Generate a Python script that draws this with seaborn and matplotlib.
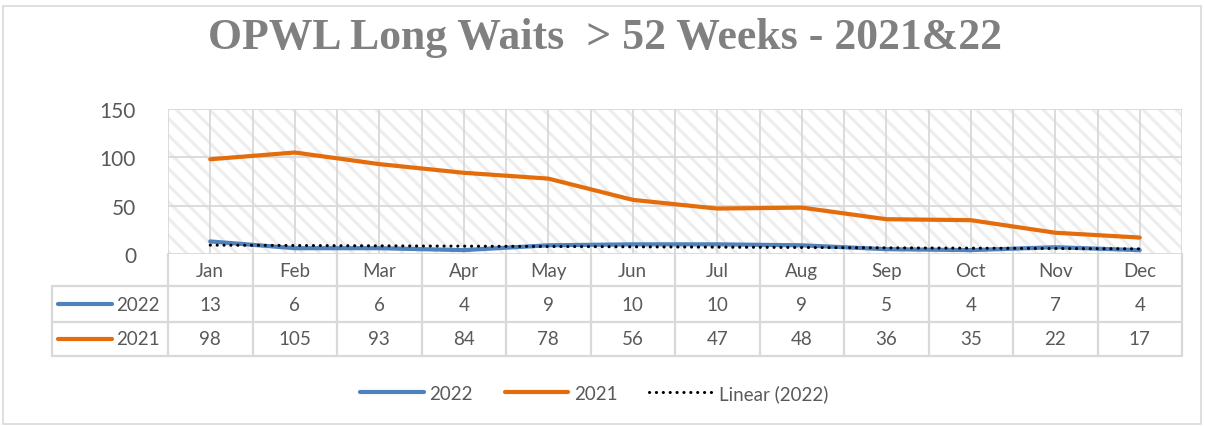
import numpy as np
import pandas as pd
import matplotlib
matplotlib.use("Agg")
import matplotlib.pyplot as plt
from matplotlib.patches import Rectangle
from matplotlib.lines import Line2D
import seaborn as sns

months = ["Jan", "Feb", "Mar", "Apr", "May", "Jun", "Jul", "Aug", "Sep", "Oct", "Nov", "Dec"]
v2022 = [13, 6, 6, 4, 9, 10, 10, 9, 5, 4, 7, 4]
v2021 = [98, 105, 93, 84, 78, 56, 47, 48, 36, 35, 22, 17]
title = "OPWL Long Waits  > 52 Weeks - 2021&22"
yticks = [0, 50, 100, 150]

C22 = "#4F81BD"
C21 = "#E46C0A"
TXT = "#595959"
GRID = "#d9d9d9"
FS = 13.5

sns.set_theme(style="white")
plt.rcParams["font.family"] = ["Lato", "DejaVu Sans"]
plt.rcParams["hatch.linewidth"] = 2.2

W, H = 1205, 427
fig = plt.figure(figsize=(W / 100, H / 100), dpi=100)
L, R, T, B = 168, 1182, 110, 255
ax = fig.add_axes([L / W, 1 - B / H, (R - L) / W, (B - T) / H])

df = pd.DataFrame({
    "x": list(range(12)) * 2,
    "v": v2022 + v2021,
    "s": ["2022"] * 12 + ["2021"] * 12,
})

# hatched plot area
ax.add_patch(Rectangle((0, 0), 1, 1, transform=ax.transAxes, facecolor="white",
                       edgecolor="#ededed", hatch="\\\\", lw=0, zorder=0.1))

sns.lineplot(data=df, x="x", y="v", hue="s", palette={"2022": C22, "2021": C21},
             linewidth=3, legend=False, ax=ax, zorder=3)
for l in ax.lines:
    l.set_solid_capstyle("round")
    l.set_solid_joinstyle("round")

sns.regplot(x=np.arange(12), y=np.array(v2022), scatter=False, ci=None, ax=ax,
            line_kws=dict(color="black", linewidth=2.2, linestyle=(0, (0.05, 2.2)),
                          dash_capstyle="round", zorder=4))

ax.set_xlim(-0.5, 11.5)
ax.set_ylim(0, 150)
ax.set_yticks(yticks)
ax.set_yticklabels([str(t) for t in yticks], fontsize=15, color=TXT)
ax.tick_params(axis="y", length=0, pad=23)
ax.set_xticks([])
ax.set_xlabel("")
ax.set_ylabel("")
for s in ax.spines.values():
    s.set_visible(False)

# gridlines
for t in yticks:
    ax.axhline(t, color=GRID, lw=1.3, zorder=0.5)
for k in range(12):
    ax.axvline(k, color=GRID, lw=1.3, zorder=0.5)
for k in range(13):
    ax.axvline(k - 0.5, color=GRID, lw=1.3, zorder=0.5)

# data table
tr = ax.get_xaxis_transform()
rows_y = [0, -0.221, -0.469, -0.703]
xleft = (52 - L) / (R - L)
for k in range(13):
    ax.plot([k - 0.5, k - 0.5], [0, rows_y[-1]], transform=tr, color=GRID, lw=1.6, clip_on=False)
ax.plot([xleft, xleft], [rows_y[1], rows_y[-1]], transform=ax.transAxes, color=GRID, lw=1.6, clip_on=False)
for yy in rows_y[1:]:
    ax.plot([xleft, 1], [yy, yy], transform=ax.transAxes, color=GRID, lw=1.6, clip_on=False)

for i, m in enumerate(months):
    ax.text(i, (rows_y[0] + rows_y[1]) / 2, m, transform=tr, ha="center", va="center",
            fontsize=FS, color=TXT)
    ax.text(i, (rows_y[1] + rows_y[2]) / 2, str(v2022[i]), transform=tr, ha="center",
            va="center", fontsize=FS, color=TXT)
    ax.text(i, (rows_y[2] + rows_y[3]) / 2, str(v2021[i]), transform=tr, ha="center",
            va="center", fontsize=FS, color=TXT)

for (lab, col, r0, r1) in [("2022", C22, rows_y[1], rows_y[2]), ("2021", C21, rows_y[2], rows_y[3])]:
    yc = (r0 + r1) / 2
    ax.add_line(Line2D([(58 - L) / (R - L), (112 - L) / (R - L)], [yc, yc], transform=ax.transAxes,
                       color=col, lw=3, solid_capstyle="round", clip_on=False))
    ax.text((160 - L) / (R - L), yc, lab, transform=ax.transAxes, ha="right", va="center",
            fontsize=FS, color=TXT)

# title
fig.text(605 / W, 1 - 38 / H, title, ha="center", va="center", fontsize=31.5,
         fontweight="bold", color="#808080", family=["Liberation Serif", "DejaVu Serif"])

# legend
handles = [
    Line2D([], [], color=C22, lw=3, solid_capstyle="round"),
    Line2D([], [], color=C21, lw=3, solid_capstyle="round"),
    Line2D([], [], color="black", lw=2.2, linestyle=(0, (0.05, 2.2)), dash_capstyle="round"),
]
leg = fig.legend(handles, ["2022", "2021", "Linear (2022)"], loc="center",
                 bbox_to_anchor=(594 / W, 1 - 394 / H), ncol=3, frameon=False,
                 fontsize=FS, handlelength=3.4, columnspacing=1.7, handletextpad=0.3)
for t in leg.get_texts():
    t.set_color(TXT)

# figure border
fig.patches.append(Rectangle((3 / W, 2 / H), (W - 7) / W, (H - 9) / H, transform=fig.transFigure,
                             fill=False, edgecolor=GRID, lw=1.2))

fig.savefig("out.png", dpi=100)
